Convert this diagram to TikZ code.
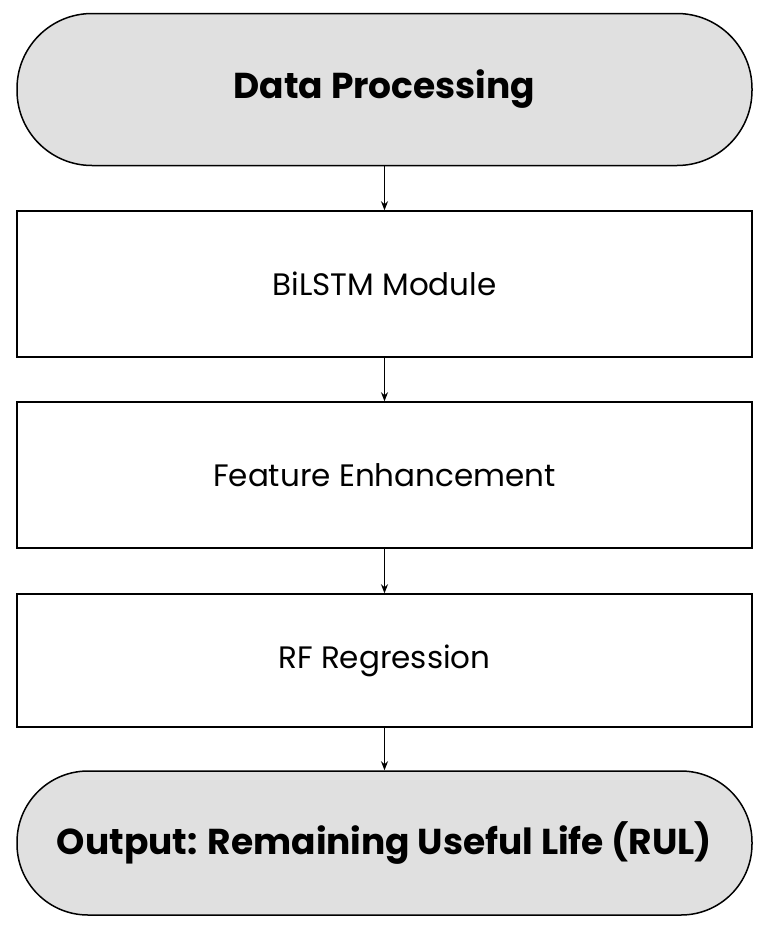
\documentclass[tikz,border=0pt]{standalone}
\usepackage{fontspec}
\setmainfont{Poppins}
\usetikzlibrary{arrows.meta}
\definecolor{termgray}{RGB}{224,224,224}
\tikzset{every picture/.style={line width=1.5pt}}
\tikzset{
  termbox/.style={draw, fill=termgray, rounded corners=75pt, minimum width=735pt, minimum height=152pt, inner sep=0pt, font=\fontsize{36}{42}\selectfont\bfseries},
  stagebox/.style={draw, fill=white, minimum width=735pt, inner sep=0pt, font=\fontsize{31}{36}\selectfont},
  flowarrow/.style={-{Stealth[length=9pt,width=7pt]}, line width=1pt}
}
\begin{document}
\begin{tikzpicture}[x=1pt,y=1pt,yscale=-1]
\useasboundingbox (0,0) rectangle (773,930);

% Terminators and stages
\node [termbox] (dataproc) at (384.5,89.5) {Data Processing};
\node [stagebox, minimum height=146pt] (bilstm) at (384.5,284) {BiLSTM Module};
\node [stagebox, minimum height=146pt] (feature) at (384.5,475) {Feature Enhancement};
\node [stagebox, minimum height=133pt] (rfreg) at (384.5,660.5) {RF Regression};
\node [termbox, minimum height=144pt, rounded corners=71pt] (output) at (384.5,843) {Output: Remaining Useful Life (RUL)};

% Connectors
\draw [flowarrow] (dataproc) -- (bilstm);
\draw [flowarrow] (bilstm) -- (feature);
\draw [flowarrow] (feature) -- (rfreg);
\draw [flowarrow] (rfreg) -- (output);

\end{tikzpicture}
\end{document}
